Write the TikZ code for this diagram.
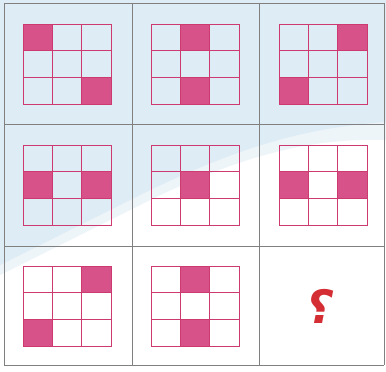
\documentclass[tikz,border=0pt]{standalone}
\usepackage{fontspec}
\usepackage{xcolor}
\usepackage{tikz}
\newfontfamily\arabicfont[Script=Arabic]{DejaVu Sans}
\TeXXeTstate=1
\definecolor{bgblue}{RGB}{222,236,245}
\definecolor{pinkfill}{RGB}{216,82,138}
\definecolor{pinkline}{RGB}{204,58,112}
\definecolor{qred}{RGB}{212,46,52}

\begin{document}
\begin{tikzpicture}[x=1pt, y=-1pt,
  cellline/.style={draw=black!50, line width=0.7pt},
  gridline/.style={draw=pinkline, line width=1pt},
  filled/.style={fill=pinkfill},
  qmark/.style={text=qred, font=\arabicfont\bfseries\fontsize{46}{46}\selectfont,
                inner sep=0pt, xslant=0.2, transform shape}]
\useasboundingbox (0,0) rectangle (386,372);
\fill[white] (0,0) rectangle (386,372);
\fill[bgblue!55] (0,0) -- (386,0) -- (386,140) .. controls (320,138) and (250,150) .. (140,205) -- (0,275) -- cycle;
\fill[bgblue] (0,0) -- (386,0) -- (386,122) .. controls (300,128) and (230,150) .. (130,200) -- (0,265) -- cycle;
% outer 3x3 frame
\foreach \x in {4,132,259,384} \draw[cellline] (\x,3) -- (\x,365);
\foreach \y in {3,124,246,365} \draw[cellline] (4,\y) -- (384,\y);
% small grids: centre x / centre y / filled squares (row/col)
\foreach \cx/\cy/\fills in {67/64/{0/0,2/2}, 195/64/{0/1,2/1}, 323/64/{0/2,2/0},
                            67/185/{1/0,1/2}, 195/185/{1/1}, 323/185/{1/0,1/2},
                            67/306/{0/2,2/0}, 195/306/{0/1,2/1}} {
  \foreach \i/\j in \fills
    \fill[filled] ({\cx-44+\j*88/3},{\cy-40+\i*80/3}) rectangle ++(88/3,80/3);
  \draw[gridline] (\cx-44,\cy-40) rectangle ++(88,80);
  \foreach \k in {1,2} {
    \draw[gridline] ({\cx-44+\k*88/3},\cy-40) -- ++(0,80);
    \draw[gridline] (\cx-44,{\cy-40+\k*80/3}) -- ++(88,0);
  }
}
\node[qmark] (q) at (320,306) {\beginR ؟\endR};
\end{tikzpicture}
\end{document}
